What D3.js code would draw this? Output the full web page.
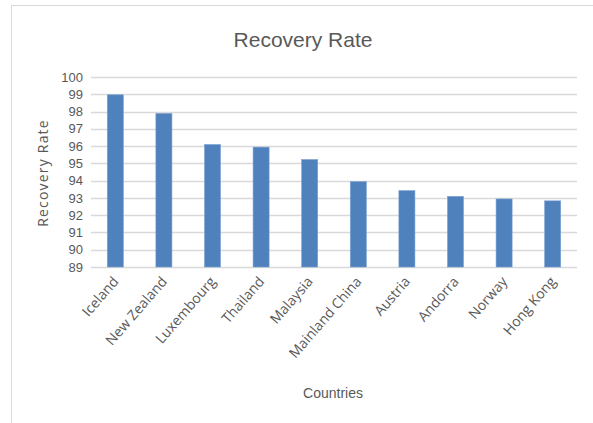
<!DOCTYPE html>
<html>
<head>
<meta charset="utf-8">
<script src="https://cdn.jsdelivr.net/npm/d3@7"></script>
<style>
  html, body { margin: 0; padding: 0; background: #fff; }
  svg { display: block; }
  text { font-family: "Liberation Sans Narrow", "Liberation Sans", sans-serif; fill: #595959; }
</style>
</head>
<body>
<svg id="chart" width="593" height="423"></svg>
<script>
// Recovery rate (%) by country
const countries = ["Iceland", "New Zealand", "Luxembourg", "Thailand", "Malaysia",
                   "Mainland China", "Austria", "Andorra", "Norway", "Hong Kong"];
const recoveryRate = [98.97, 97.89, 96.09, 95.94, 95.22, 93.94, 93.42, 93.09, 92.94, 92.83];
const yTicks = [89, 90, 91, 92, 93, 94, 95, 96, 97, 98, 99, 100];

const svg = d3.select("#chart");
const margin = { left: 91, right: 16, top: 77, bottom: 156 };
const W = 593, H = 423;

// chart area frame
svg.append("rect")
  .attr("x", 11.5).attr("y", 5.5)
  .attr("width", 600).attr("height", 430)
  .attr("fill", "none").attr("stroke", "#d9d9d9").attr("stroke-width", 1);

const x = d3.scaleBand()
  .domain(countries)
  .range([margin.left, W - margin.right])
  .paddingInner(0.67).paddingOuter(0.335);

const y = d3.scaleLinear()
  .domain([89, 100])
  .range([H - margin.bottom, margin.top]);

// horizontal gridlines
svg.append("g")
  .selectAll("line")
  .data(yTicks)
  .join("line")
  .attr("x1", margin.left).attr("x2", W - margin.right)
  .attr("y1", d => Math.round(y(d)) + 0.5).attr("y2", d => Math.round(y(d)) + 0.5)
  .attr("stroke", "#d9d9d9").attr("stroke-width", 1.3);

// y axis labels
const yAxis = d3.axisLeft(y).tickValues(yTicks).tickSize(0).tickPadding(0).tickFormat(d3.format("d"));
svg.append("g")
  .attr("transform", `translate(${margin.left - 8},0)`)
  .call(yAxis)
  .call(g => g.select(".domain").remove())
  .selectAll("text")
  .style("font-size", "13px")
  .style("font-family", "'Liberation Sans Narrow', 'Liberation Sans', sans-serif")
  .attr("fill", "#595959");

// bars
svg.append("g")
  .selectAll("rect")
  .data(countries)
  .join("rect")
  .attr("x", d => x(d))
  .attr("width", x.bandwidth())
  .attr("y", (d, i) => y(recoveryRate[i]))
  .attr("height", (d, i) => y(89) - y(recoveryRate[i]))
  .attr("fill", "#4f81bd")
  .attr("stroke", "#7aa0d0").attr("stroke-width", 0.6);

// x axis labels, rotated
const xAxis = d3.axisBottom(x).tickSize(0).tickPadding(0);
svg.append("g")
  .attr("transform", `translate(0,${H - margin.bottom})`)
  .call(xAxis)
  .call(g => g.select(".domain").remove())
  .selectAll("text")
  .style("font-size", "14px")
  .style("font-family", "'Open Sans', sans-serif")
  .attr("fill", "#595959")
  .attr("text-anchor", "end")
  .attr("dy", null)
  .attr("transform", "translate(4,15) rotate(-49)");

// chart title
svg.append("text")
  .attr("x", 303).attr("y", 47)
  .attr("text-anchor", "middle")
  .style("font-size", "21px")
  .text("Recovery Rate");

// axis titles
svg.append("text")
  .attr("transform", `translate(48,173) rotate(-90)`)
  .attr("text-anchor", "middle")
  .style("font-size", "14px")
  .style("font-family", "'Open Sans', sans-serif")
  .style("letter-spacing", "1.2px")
  .text("Recovery Rate");

svg.append("text")
  .attr("x", 333).attr("y", 398)
  .attr("text-anchor", "middle")
  .style("font-size", "14px")
  .text("Countries");
</script>
</body>
</html>
